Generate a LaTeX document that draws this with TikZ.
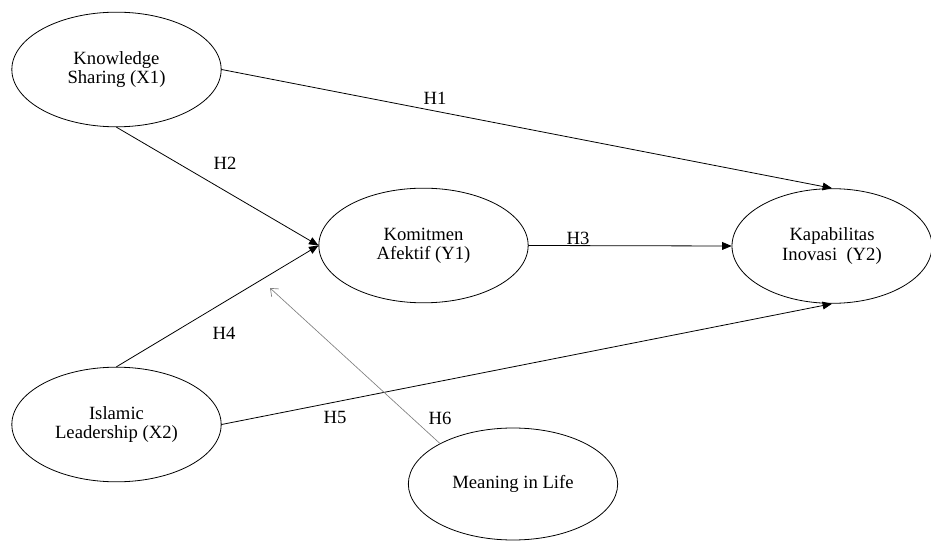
\documentclass[tikz,border=0pt]{standalone}
\usepackage{fontspec}
\setmainfont{Liberation Serif}
\usetikzlibrary{arrows,arrows.meta}
\usetikzlibrary{shapes.geometric}

\tikzset{
  latent/.style={ellipse,draw,line width=0.6pt,inner sep=0pt,align=center,
    minimum width=157pt,minimum height=86pt,font=\fontsize{14}{14.5}\selectfont},
  hyp/.style={font=\fontsize{14}{14}\selectfont},
  path/.style={->,line width=0.6pt},
  moderator/.style={-{Straight Barb[length=5pt,width=8pt]},draw=gray,line width=0.5pt}
}

\begin{document}
\begin{tikzpicture}[line cap=round,line join=round,>=triangle 45,x=0.75pt,y=-0.75pt]
\useasboundingbox (0,0) rectangle (931,541);
\node[latent] (ks) at (116.5,69.5) {Knowledge\\Sharing (X1)};
\node[latent] (ka) at (423.5,245.5) {Komitmen\\Afektif (Y1)};
\node[latent,minimum width=150pt] (ki) at (832,246) {Kapabilitas\\Inovasi\ \ (Y2)};
\node[latent] (il) at (116.5,424.5) {Islamic\\Leadership (X2)};
\node[latent,minimum height=84pt] (mil) at (513,484) {Meaning in Life};
\coordinate (mod) at (270,288);
% paths
\draw[path] (ks.east) -- (ki.north);
\draw[path] (ks.south) -- (ka.west);
\draw[path] (ka.east) -- (ki.west);
\draw[path] (il.north) -- (ka.west);
\draw[path] (il.east) -- (ki.south);
\draw[moderator] (mil.151) -- (mod);
\node[hyp] at (435,98) {H1};
\node[hyp] at (225,163) {H2};
\node[hyp] at (578,238) {H3};
\node[hyp] at (224,333) {H4};
\node[hyp] at (335,417) {H5};
\node[hyp] at (440,418) {H6};
\end{tikzpicture}
\end{document}
